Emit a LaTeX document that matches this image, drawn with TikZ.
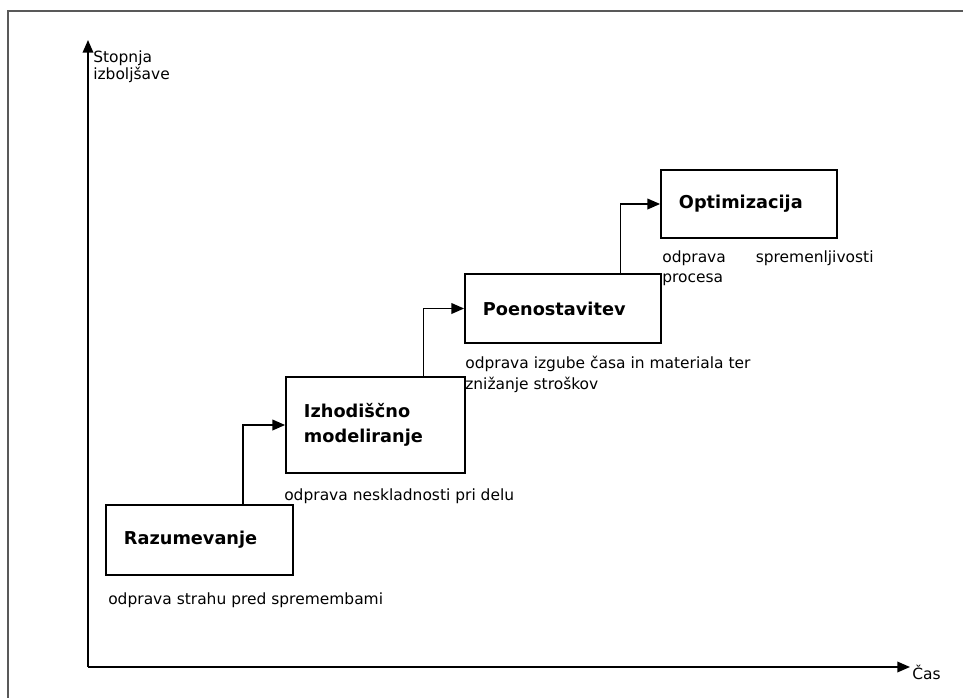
\documentclass[tikz,border=0pt]{standalone}
\usepackage{fontspec}
\setmainfont{DejaVu Sans}
\usepackage{tikz}
\usetikzlibrary{arrows.meta, positioning, calc}

\begin{document}
\begin{tikzpicture}[x=0.025cm, y=-0.025cm,
    >={Triangle[length=9pt, width=7.5pt]},
    every node/.style={font=\fontsize{11}{14.9}\selectfont},
    stage/.style={draw, line width=1.2pt, inner xsep=0.45cm, align=left,
      font=\fontsize{12.6}{17.5}\selectfont\bfseries},
    note/.style={anchor=north west, inner sep=0pt, align=left}]
    \useasboundingbox (0,0) rectangle (963,698);
    % frame
    \draw[line width=1.2pt, black!65] (8,698) -- (8,11) -- (963,11);
    % axes
    \coordinate (origin) at (88,667);
    \coordinate (ytip) at (88,40);
    \coordinate (xtip) at (910,667);
    \draw[->, line width=1.2pt] (origin) -- (ytip);
    \draw[->, line width=1.2pt] (origin) -- (xtip);
    \node[anchor=north west, inner sep=0pt, align=left,
      font=\fontsize{11}{12.4}\selectfont] (ylabel) at (93,50) {Stopnja\\izboljšave};
    \node[anchor=west, inner sep=0pt] (xlabel) at (912,672) {Čas};
    % stages
    \node[stage, minimum width=4.675cm, minimum height=1.75cm, text width=3.775cm]
      (raz) at (199.5,540) {Razumevanje};
    \node[stage, minimum width=4.475cm, minimum height=2.4cm, text width=3.575cm]
      (izh) at (375.5,425) {Izhodiščno\\modeliranje};
    \node[stage, minimum width=4.9cm, minimum height=1.725cm, text width=4cm]
      (poe) at (563,308.5) {Poenostavitev};
    \node[stage, minimum width=4.4cm, minimum height=1.7cm, text width=3.5cm]
      (opt) at (749,204) {Optimizacija};
    % notes below the stages
    \node[note] (razn) at (108,592) {odprava strahu pred spremembami};
    \node[note] (izhn) at (284,488) {odprava neskladnosti pri delu};
    \node[note] (poen) at (465,356) {odprava izgube časa in materiala ter\\znižanje stroškov};
    \node[note, text width=5.28cm] (optn) at (662,250) {odprava\hfill spremenljivosti\\procesa};
    % steps
    \foreach \from/\to/\pos in {raz/izh/0.73, izh/poe/0.765, poe/opt/0.79}
      \draw[->, line width=1.2pt] ($(\from.north west)!\pos!(\from.north east)$) |- (\to.west);
\end{tikzpicture}
\end{document}
